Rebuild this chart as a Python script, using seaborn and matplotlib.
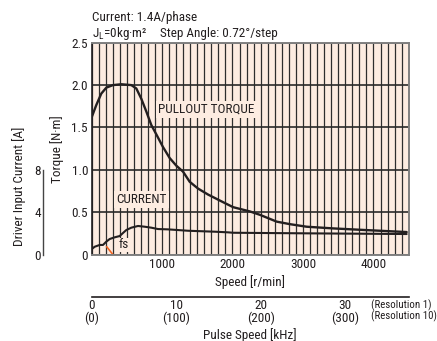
import numpy as np
import pandas as pd
import matplotlib
matplotlib.use("Agg")
import matplotlib.pyplot as plt
import seaborn as sns

# ---- data ----
torque_rpm = [0, 68, 139, 210, 305, 423, 565, 636, 706, 777, 848, 919, 1014, 1109,
              1203, 1298, 1393, 1511, 1652, 1794, 1889, 2011, 2248, 2390, 2627,
              2816, 3052, 3430, 3904, 4471]
torque_nm = [1.615, 1.765, 1.90, 1.97, 2.0, 2.01, 2.0, 1.96, 1.84, 1.69, 1.53, 1.42,
             1.27, 1.14, 1.05, 0.98, 0.86, 0.78, 0.71, 0.65, 0.61, 0.56, 0.51, 0.47,
             0.39, 0.36, 0.33, 0.31, 0.29, 0.267]
current_rpm = [0, 45, 116, 163, 210, 258, 329, 400, 447, 494, 565, 660, 755, 848,
               943, 1085, 1369, 1747, 1936, 2011, 2957, 4471]
current_a = [0.51, 0.75, 0.92, 0.92, 1.23, 1.48, 1.64, 1.76, 2.05, 2.33, 2.55, 2.71,
             2.64, 2.55, 2.42, 2.39, 2.26, 2.17, 2.11, 2.07, 2.02, 1.95]
fs_rpm = [210, 305]
fs_torque = [0.10, 0.0]

speed_ticks = [1000, 2000, 3000, 4000]
torque_ticks = [0, 0.5, 1.0, 1.5, 2.0, 2.5]
torque_labels = ["0", "0.5", "1.0", "1.5", "2.0", "2.5"]
current_ticks = [0, 4, 8]
pulse_major = [0, 10, 20, 30]
pulse_minor = [5, 15, 25, 35]
pulse_labels = ["0\n(0)", "10\n(100)", "20\n(200)", "30\n(300)"]

sns.set_theme(style="white")
FONT = ["Roboto Condensed", "DejaVu Sans"]
plt.rcParams["font.family"] = FONT
plt.rcParams["mathtext.fontset"] = "custom"
plt.rcParams["mathtext.rm"] = "Roboto Condensed"
plt.rcParams["mathtext.it"] = "Roboto Condensed"

BG = "#fdece1"
INK = "#231f20"
FS = 9.5

W, H = 437, 341
fig = plt.figure(figsize=(W / 100, H / 100), dpi=100)
fig.patch.set_facecolor("white")

L, R, T, B = 91.5, 408.7, 42.7, 254.7
pos = [L / W, 1 - B / H, (R - L) / W, (B - T) / H]
ax = fig.add_axes(pos)
ax.set_facecolor(BG)
ax.set_xlim(0, 4500)
ax.set_ylim(0, 2.5)
ax.set_axisbelow(True)

ax.set_xticks(speed_ticks)
ax.set_xticks(np.arange(0, 4501, 100), minor=True)
ax.set_xticklabels([str(v) for v in speed_ticks], fontsize=FS, color=INK)
ax.set_yticks(torque_ticks)
ax.set_yticklabels(torque_labels, fontsize=FS, color=INK)
ax.tick_params(axis="both", which="both", length=0, pad=2.5)
ax.grid(True, axis="x", which="both", color="#2e2e2e", lw=0.9)
ax.grid(True, axis="y", which="major", color="#2a2a2a", lw=1.2)
for s in ["top", "right", "bottom"]:
    ax.spines[s].set_color("#808080")
    ax.spines[s].set_linewidth(1.4)
ax.spines["left"].set_color(INK)
ax.spines["left"].set_linewidth(1.2)

sns.lineplot(x=torque_rpm, y=torque_nm, ax=ax, color=INK, linewidth=1.7,
             estimator=None, sort=False)
ax.plot(fs_rpm, fs_torque, color="#f26522", lw=1.2, solid_capstyle="butt")

box = dict(boxstyle="square,pad=0.15", fc=BG, ec="none")
ax.text(945, 1.715, "PULLOUT TORQUE", fontsize=FS, color=INK, ha="left",
        va="center", bbox=box)
ax.text(710, 0.65, "CURRENT", fontsize=FS, color=INK, ha="center",
        va="center", bbox=box)
ax.text(455, 0.118, "fs", fontsize=FS, color=INK, ha="center", va="center",
        bbox=dict(boxstyle="square,pad=0.05", fc=BG, ec="none"))

ax.set_xlabel("Speed [r/min]", fontsize=FS, color=INK, labelpad=3)
ax.set_ylabel("Torque [N·m]", fontsize=FS, color=INK, labelpad=5)

# current axis
axc = fig.add_axes(pos, sharex=ax)
axc.patch.set_alpha(0)
axc.set_ylim(0, 20)
axc.grid(False)
for s in ["top", "right", "bottom"]:
    axc.spines[s].set_visible(False)
axc.spines["left"].set_position(("axes", (43.3 - L) / (R - L)))
axc.spines["left"].set_bounds(0, 8)
axc.spines["left"].set_color("#444444")
axc.spines["left"].set_linewidth(1.0)
axc.set_yticks(current_ticks)
axc.set_yticklabels([str(v) for v in current_ticks], fontsize=FS, color=INK)
axc.tick_params(axis="y", direction="in", length=3, width=1.0, color="#444444", pad=1.5)
axc.tick_params(axis="x", bottom=False, labelbottom=False)
sns.lineplot(x=current_rpm, y=current_a, ax=axc, color=INK, linewidth=1.5,
             estimator=None, sort=False)
axc.set_xlabel("")
fig.text(19 / W, 1 - 186 / H, "Driver Input Current [A]", rotation=90,
         fontsize=FS, color=INK, ha="center", va="center")

# pulse speed axis
yp = 296.7
axp = fig.add_axes([L / W, 1 - yp / H, (R - L) / W, 0.0001])
axp.set_facecolor("none")
axp.set_xlim(0, 37.5)
axp.set_yticks([])
for s in ["top", "right", "left"]:
    axp.spines[s].set_visible(False)
axp.spines["bottom"].set_color(INK)
axp.spines["bottom"].set_linewidth(1.2)
axp.set_xticks(pulse_major)
axp.set_xticks(pulse_minor, minor=True)
axp.set_xticklabels(pulse_labels, fontsize=FS, color=INK)
for lab in axp.get_xticklabels():
    lab.set_linespacing(0.9)
axp.tick_params(axis="x", which="both", direction="in", length=3.5, width=1.0,
                color=INK, pad=2)
axp.set_xlabel("Pulse Speed [kHz]", fontsize=FS, color=INK, labelpad=2)
fig.text(371 / W, 1 - 310.5 / H, "(Resolution 1)\n(Resolution 10)", fontsize=7.8,
         color=INK, ha="left", va="center", linespacing=0.95)

# header
fig.text(92 / W, 1 - 17 / H, "Current: 1.4A/phase", fontsize=FS, color=INK,
         ha="left", va="center")
fig.text(92 / W, 1 - 33 / H, r"J$_{\mathregular{L}}$=0kg·m²", fontsize=FS, color=INK,
         ha="left", va="center")
fig.text(160 / W, 1 - 33 / H, "Step Angle: 0.72°/step", fontsize=FS, color=INK,
         ha="left", va="center")

fig.savefig("out.png", dpi=100)
